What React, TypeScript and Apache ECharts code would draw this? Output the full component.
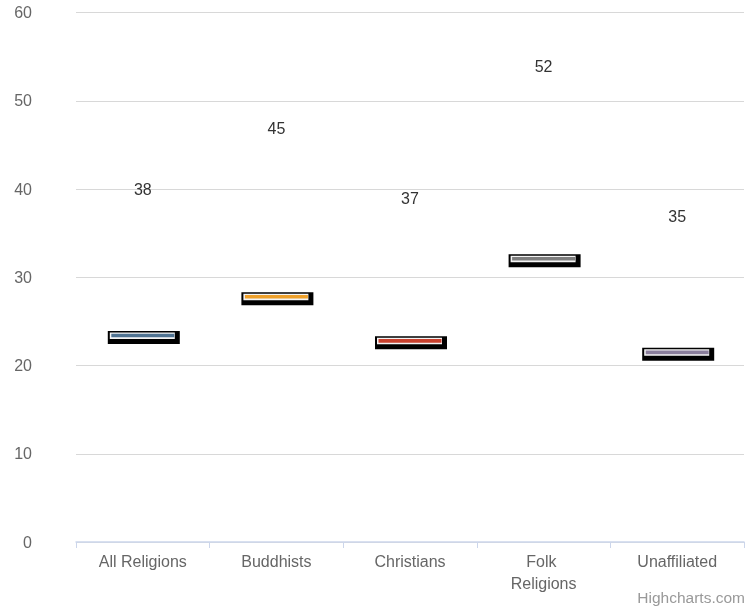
import React, { useEffect, useRef } from "react";
import * as echarts from "echarts";

const categories = ["All Religions", "Buddhists", "Christians", "Folk Religions", "Unaffiliated"];
const labelValues = [38, 45, 37, 52, 35];
const markerValues = [23.4, 27.8, 22.8, 32.1, 21.5];
const colors = ["#4f7392", "#eea02a", "#c8412e", "#7e7e7e", "#8a7e9c"];
const yTicks = { min: 0, max: 60, interval: 10 };

const FONT = "'Liberation Sans', Arial, Helvetica, sans-serif";

export default function App() {
  const ref = useRef<HTMLDivElement>(null);
  useEffect(() => {
    if (!ref.current) return;
    const chart = echarts.init(ref.current, null, { renderer: "svg" });
    const data = categories.map((c, i) => [i, markerValues[i], labelValues[i]]);
    chart.setOption({
      animation: false,
      grid: { left: 76, right: 3, top: 12.7, bottom: 70, containLabel: false },
      xAxis: {
        type: "category",
        data: categories,
        boundaryGap: true,
        axisLine: { show: true, lineStyle: { color: "#ccd6eb", width: 1.5 } },
        axisTick: { show: true, length: 6, lineStyle: { color: "#ccd6eb" } },
        axisLabel: {
          color: "#666666",
          fontSize: 16,
          fontFamily: FONT,
          margin: 8,
          width: 95,
          overflow: "break",
          lineHeight: 22,
        },
        splitLine: { show: false },
      },
      yAxis: {
        type: "value",
        min: yTicks.min,
        max: yTicks.max,
        interval: yTicks.interval,
        axisLine: { show: false },
        axisTick: { show: false },
        axisLabel: {
          color: "#666666",
          fontSize: 16,
          fontFamily: FONT,
          margin: 44,
          padding: [4, 0, 0, 0],
        },
        splitLine: { show: true, lineStyle: { color: "#d8d8d8", width: 1 } },
      },
      graphic: [
        {
          type: "text",
          x: 745,
          y: 597,
          style: {
            text: "Highcharts.com",
            fill: "#999999",
            fontSize: 15.5,
            fontFamily: FONT,
            align: "right",
            verticalAlign: "middle",
          },
        },
      ],
      series: [
        {
          type: "custom",
          data,
          encode: { x: 0, y: 1 },
          renderItem: (params: any, api: any) => {
            const idx = api.value(0);
            const p = api.coord([idx, api.value(1)]);
            const l = api.coord([idx, api.value(2)]);
            const color = colors[params.dataIndex];
            return {
              type: "group",
              children: [
                {
                  type: "rect",
                  shape: { x: p[0] - 35, y: p[1] - 4.5, width: 72, height: 13 },
                  style: { fill: "#000000" },
                },
                {
                  type: "rect",
                  shape: { x: p[0] - 33, y: p[1] - 3, width: 65, height: 6.5 },
                  style: { fill: "#f4f4f4" },
                },
                {
                  type: "rect",
                  shape: { x: p[0] - 31.5, y: p[1] - 1.8, width: 63, height: 3.6 },
                  style: { fill: color },
                },
                {
                  type: "text",
                  x: l[0],
                  y: l[1] - 17,
                  style: {
                    text: String(api.value(2)),
                    fill: "#333333",
                    fontSize: 16,
                    fontFamily: FONT,
                    align: "center",
                    verticalAlign: "middle",
                  },
                },
              ],
            };
          },
        },
      ],
    });
    return () => chart.dispose();
  }, []);
  return (
    <div
      ref={ref}
      style={{ position: "fixed", left: 0, top: 0, width: 747, height: 612 }}
    />
  );
}
